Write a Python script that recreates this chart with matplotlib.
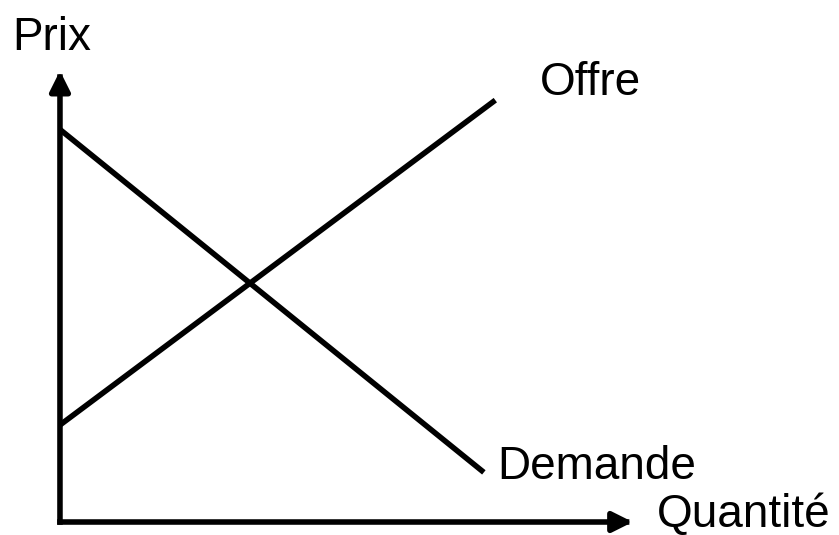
import matplotlib
matplotlib.use("Agg")
import matplotlib.pyplot as plt

# Data (economic units)
demand_q = [0.0, 7.4]
demand_p = [8.7, 1.1]
supply_q = [0.0, 7.6]
supply_p = [2.15, 9.35]
axis_max_q = 10.0
axis_max_p = 10.0

labels = {"x": "Quantité", "y": "Prix", "supply": "Offre", "demand": "Demande"}

plt.rcParams['font.family'] = ['Liberation Sans', 'DejaVu Sans']

fig = plt.figure(figsize=(8.39, 5.35), dpi=100)
ax = fig.add_axes([0, 0, 1, 1])
ax.set_xlim(-1.047, 13.6)
ax.set_ylim(-0.288, 11.57)
ax.axis('off')

lw = 4.0
ax.plot(demand_q, demand_p, color='black', lw=lw, solid_capstyle='butt')
ax.plot(supply_q, supply_p, color='black', lw=lw, solid_capstyle='butt')

arrow = dict(arrowstyle='-|>,head_length=1.0,head_width=0.5', lw=lw, color='black',
             mutation_scale=12, shrinkA=0, shrinkB=0, capstyle='projecting')
ax.annotate('', xy=(axis_max_q, 0), xytext=(0, 0), arrowprops=arrow)
ax.annotate('', xy=(0, axis_max_p), xytext=(0, 0), arrowprops=arrow)

fs = 33
ax.text(-0.84, 10.47, labels["y"], fontsize=fs, ha='left', va='baseline')
ax.text(8.38, 9.47, labels["supply"], fontsize=fs, ha='left', va='baseline')
ax.text(7.64, 0.95, labels["demand"], fontsize=fs, ha='left', va='baseline')
ax.text(10.42, -0.11, labels["x"], fontsize=fs, ha='left', va='baseline')

fig.savefig('out.png', dpi=100)
